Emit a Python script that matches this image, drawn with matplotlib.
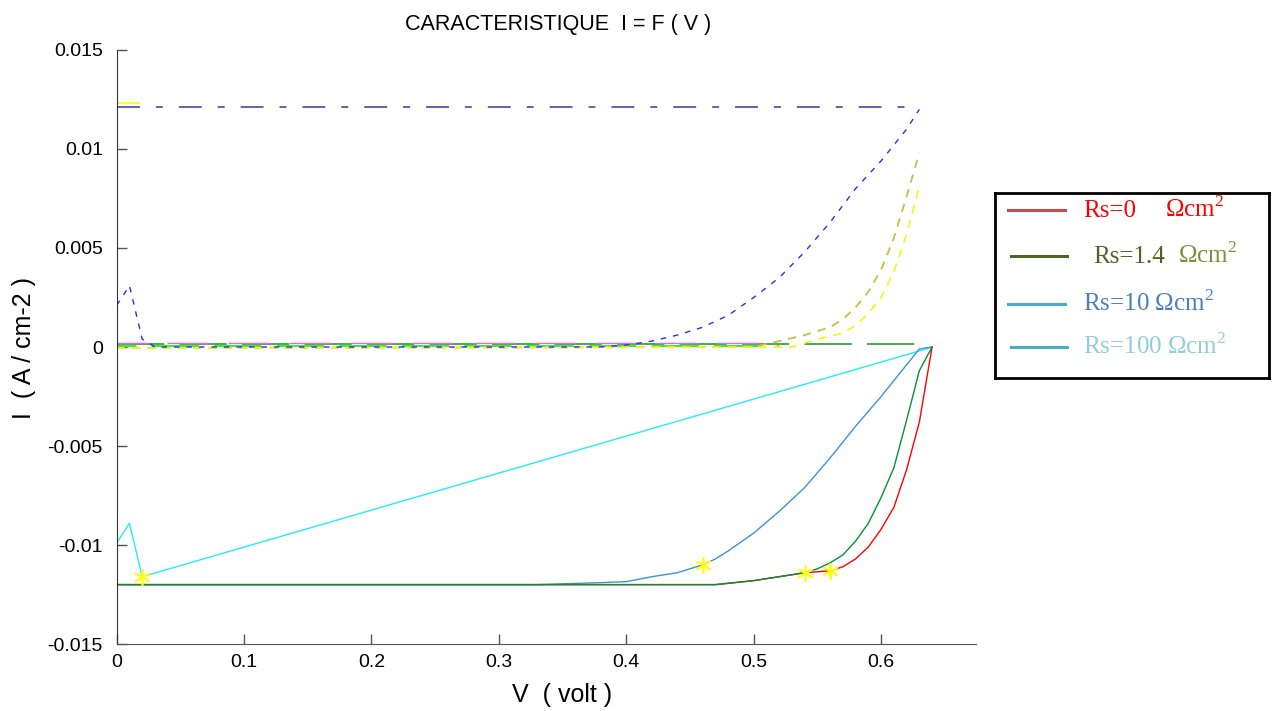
import matplotlib
matplotlib.use('Agg')
import matplotlib.pyplot as plt
from matplotlib.lines import Line2D

plt.rcParams['font.family'] = ['Liberation Sans', 'DejaVu Sans']
plt.rcParams['lines.scale_dashes'] = False
plt.rcParams['mathtext.fontset'] = 'custom'
plt.rcParams['mathtext.rm'] = 'Liberation Serif'

# COURBES I = F(V) (A/cm2)
V_rs0 = [0, 0.47, 0.50, 0.52, 0.54, 0.56, 0.57, 0.58, 0.59, 0.60, 0.61, 0.62, 0.63, 0.64]
I_rs0 = [-0.0120, -0.0120, -0.0118, -0.0116, -0.0114, -0.0113, -0.0111, -0.0107, -0.0101,
         -0.0092, -0.0081, -0.0062, -0.0038, 0.0]

V_rs14 = [0, 0.47, 0.50, 0.52, 0.54, 0.55, 0.56, 0.57, 0.58, 0.59, 0.60, 0.61, 0.62, 0.63, 0.64]
I_rs14 = [-0.0120, -0.0120, -0.0118, -0.0116, -0.0114, -0.0112, -0.0109, -0.0105, -0.0098,
          -0.0089, -0.0076, -0.0061, -0.0037, -0.0012, 0.0]

V_rs10 = [0, 0.33, 0.38, 0.40, 0.42, 0.44, 0.46, 0.47, 0.48, 0.50, 0.52, 0.54, 0.56, 0.58,
          0.60, 0.62, 0.63, 0.64]
I_rs10 = [-0.0120, -0.0120, -0.0119, -0.01185, -0.0116, -0.0114, -0.0110, -0.0107, -0.0103,
          -0.0094, -0.0083, -0.0071, -0.0056, -0.0040, -0.0025, -0.0009, -0.0001, 0.0]

V_rs100 = [0, 0.01, 0.02, 0.63, 0.64]
I_rs100 = [-0.0099, -0.0089, -0.0116, -0.0002, 0.0]

# points de puissance max
V_pm = [0.02, 0.46, 0.54, 0.56]
I_pm = [-0.0116, -0.0110, -0.0114, -0.0113]

# courbes en pointillés (partie haute)
V_bleu = [0, 0.01, 0.02, 0.03, 0.38, 0.40, 0.42, 0.44, 0.46, 0.48, 0.50, 0.52, 0.54, 0.56,
          0.58, 0.60, 0.62, 0.63]
I_bleu = [0.0021, 0.0031, 0.0004, 0.0, 0.0, 0.0001, 0.0003, 0.0006, 0.0010, 0.0016, 0.0025,
          0.0035, 0.0048, 0.0063, 0.0080, 0.0094, 0.0110, 0.0120]

V_olive = [0, 0.50, 0.52, 0.54, 0.56, 0.57, 0.58, 0.59, 0.60, 0.61, 0.62, 0.63]
I_olive = [-0.00005, 0.0, 0.0003, 0.0006, 0.0010, 0.0014, 0.0020, 0.0028, 0.0039, 0.0055,
           0.0076, 0.0098]

V_jaune = [0, 0.53, 0.55, 0.57, 0.58, 0.59, 0.60, 0.61, 0.62, 0.63]
I_jaune = [-0.00005, 0.0, 0.0004, 0.0007, 0.0011, 0.0017, 0.0025, 0.0038, 0.0057, 0.0081]

# lignes horizontales
V_icc = [0, 0.63]
I_icc = [0.0121, 0.0121]
V_icc2 = [0, 0.0175]
I_icc2 = [0.0123, 0.0123]
V_zero1 = [0, 0.52]
I_zero1 = [0.00007, 0.00007]
V_zero2 = [0, 0.63]
I_zero2 = [0.00015, 0.00015]
V_mag = [0, 0.52]
I_mag = [0.00022, 0.00022]

yticks = [-0.015, -0.01, -0.005, 0, 0.005, 0.01, 0.015]
ytick_labels = ['-0.015', '-0.01', '-0.005', '0', '0.005', '0.01', '0.015']
xticks = [0, 0.1, 0.2, 0.3, 0.4, 0.5, 0.6]
xtick_labels = ['0', '0.1', '0.2', '0.3', '0.4', '0.5', '0.6']

# légende
leg_labels = [('Rs=0', 'Ωcm$^{\\mathrm{2}}$'), ('Rs=1.4', 'Ωcm$^{\\mathrm{2}}$'),
              ('Rs=10 Ωcm$^{\\mathrm{2}}$', None), ('Rs=100 Ωcm$^{\\mathrm{2}}$', None)]
leg_line_colors = ['#c0504d', '#4f6228', '#4bacc6', '#4bacc6']
leg_text_colors = [('#ff0000', '#ff0000'), ('#4f6228', '#77933c'),
                   ('#4a7ebb', None), ('#93cddd', None)]

fig = plt.figure(figsize=(12.74, 7.11), dpi=100)
ax = fig.add_axes([0.0916, 0.0942, 0.6745, 0.8355])

# pointillés en haut
ax.plot(V_zero2, I_zero2, color='#4aaa4a', lw=1.4, linestyle=(0, (34, 11)))
ax.plot(V_mag, I_mag, color='#ff55ff', lw=1.0, linestyle=(8, (30, 14)))
ax.plot(V_zero1, I_zero1, color='#22ee22', lw=1.3, linestyle=(20, (34, 11)))
ax.plot(V_olive, I_olive, color='#c8c34a', lw=1.4, linestyle=(0, (6, 5)))
ax.plot(V_jaune, I_jaune, color='#f5f51a', lw=1.2, linestyle=(0, (6, 5)))
ax.plot(V_bleu, I_bleu, color='#2b2bff', lw=1.0, linestyle=(0, (4, 5)))
ax.plot(V_icc, I_icc, color='#5555aa', lw=1.3, linestyle=(0, (16.5, 11.5, 5, 11.5)))
ax.plot(V_icc2, I_icc2, color='#ffff00', lw=1.3)

# caractéristiques
ax.plot(V_rs100, I_rs100, color='#22eef5', lw=1.0)
ax.plot(V_rs10, I_rs10, color='#3d94d0', lw=1.0)
ax.plot(V_rs0, I_rs0, color='#ff0000', lw=1.0)
ax.plot(V_rs14, I_rs14, color='#00913a', lw=1.0)
ax.plot(V_pm, I_pm, linestyle='none', marker=(6, 2, 0), markersize=12,
        markeredgecolor='#ffff00', markeredgewidth=1.2)

ax.set_xlim(0, 0.6745)
ax.set_ylim(-0.015, 0.015)
ax.set_xticks(xticks)
ax.set_xticklabels(xtick_labels)
ax.set_yticks(yticks)
ax.set_yticklabels(ytick_labels)
ax.spines['top'].set_visible(False)
ax.spines['right'].set_visible(False)
ax.spines['left'].set_color('#333333')
ax.spines['bottom'].set_color('#555555')
ax.tick_params(axis='both', direction='in', length=7, width=1, color='#555555',
               labelsize=14)
ax.tick_params(axis='y', pad=10)
ax.tick_params(axis='x', pad=7)

fig.text(0.438, 0.966, 'CARACTERISTIQUE  I = F ( V )', ha='center', va='center', fontsize=15.5)
fig.text(0.441, 0.0225, 'V  ( volt )', ha='center', va='center', fontsize=18)
fig.text(0.0185, 0.5105, 'I  ( A / cm-2 )', ha='center', va='center', fontsize=18, rotation=90)

# boîte de légende
lax = fig.add_axes([0.781, 0.4684, 0.215, 0.260])
lax.set_xlim(0, 1)
lax.set_ylim(0, 1)
lax.set_xticks([])
lax.set_yticks([])
for s in lax.spines.values():
    s.set_linewidth(2)
    s.set_color('black')

row_y = [0.908, 0.659, 0.400, 0.168]
line_x = [(0.047, 0.255), (0.058, 0.263), (0.047, 0.255), (0.058, 0.263)]
text_x = [(0.321, 0.620), (0.357, 0.668), (0.321, None), (0.321, None)]
for i in range(4):
    lax.add_line(Line2D(line_x[i], [row_y[i], row_y[i]], color=leg_line_colors[i], lw=2.2))
    t1, t2 = leg_labels[i]
    c1, c2 = leg_text_colors[i]
    lax.text(text_x[i][0], row_y[i] - 0.038, t1, color=c1, fontsize=18,
             family='Liberation Serif', va='baseline', ha='left')
    if t2 is not None:
        lax.text(text_x[i][1], row_y[i] - 0.038, t2, color=c2, fontsize=18,
                 family='Liberation Serif', va='baseline', ha='left')

fig.savefig('out.png', dpi=100)
